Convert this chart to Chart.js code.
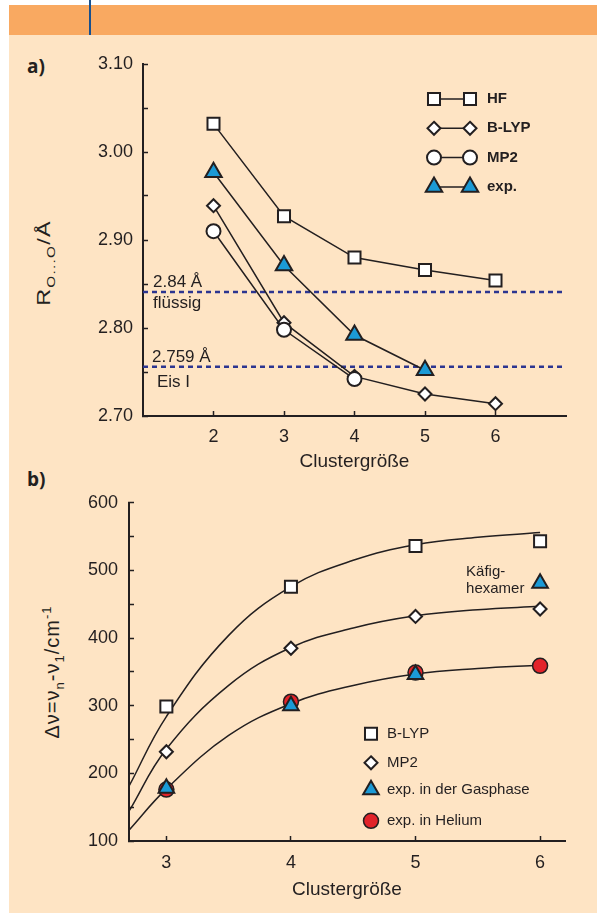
<!DOCTYPE html>
<html>
<head>
<meta charset="utf-8">
<script src="https://cdn.jsdelivr.net/npm/chart.js"></script>
<style>
  body { margin: 0; background: #fff; }
  #page { position: relative; width: 597px; height: 913px; overflow: hidden; font-family: "Liberation Sans", Arial, sans-serif; color: #231f20; }
  #band { position: absolute; left: 9px; top: 5px; right: 0; height: 30px; background: #f9a961; }
  #panel { position: absolute; left: 9px; top: 35px; right: 0; bottom: 0; background: #fee4c4; }
  #rule { position: absolute; left: 89px; top: 0; width: 2px; height: 35px; background: #17508f; }
  canvas { position: absolute; left: 0; }
  #chartA { top: 36px; }
  #chartB { top: 476px; }
  .tag { position: absolute; font-family: "Open Sans", "Noto Sans", sans-serif; font-weight: bold; font-size: 19px; line-height: 1; }
  .ytitle { position: absolute; white-space: nowrap; line-height: 1; transform: translate(-50%, -50%) rotate(-90deg); }
  .ytitle sub, .ytitle sup { font-size: 65%; }
</style>
</head>
<body>
<div id="page">
  <div id="band"></div>
  <div id="panel"></div>
  <div id="rule"></div>
  <div class="tag" style="left:27px; top:57px;">a)</div>
  <div class="tag" style="left:27px; top:470px;">b)</div>
  <div class="ytitle" style="left:46px; top:263px; font-size:18px; letter-spacing:1px; transform: translate(-50%, -50%) rotate(-90deg) scaleX(1.3);">R<sub>O...O</sub>/Å</div>
  <div class="ytitle" style="left:53px; top:672px; font-size:20px; letter-spacing:1px;">Δν=ν<sub>n</sub>-ν<sub>1</sub>/cm<sup>-1</sup></div>
  <canvas id="chartA" width="597" height="440"></canvas>
  <canvas id="chartB" width="597" height="437"></canvas>
</div>
<script>
// a) O...O distance vs cluster size
const sizesA = [2, 3, 4, 5, 6];
const hfA = [3.032, 2.927, 2.880, 2.866, 2.854];
const blypA = [2.939, 2.806, 2.745, 2.725, 2.714];
const mp2A = [2.910, 2.798, 2.742];
const expA = [2.977, 2.871, 2.792, 2.752];
const liquidRef = 2.841;
const iceRef = 2.756;
const liquidText = ['2.84 Å', 'flüssig'];
const iceText = ['2.759 Å', 'Eis I'];
const xTicksA = [2, 3, 4, 5, 6];
const yTicksA = [2.70, 2.80, 2.90, 3.00, 3.10];
const yMinorA = [2.75, 2.85, 2.95, 3.05];
const legendA = ['HF', 'B-LYP', 'MP2', 'exp.'];

// b) frequency shift vs cluster size
const sizesB = [3, 4, 5, 6];
const blypB = [299, 476, 536, 543];
const mp2B = [232, 385, 432, 443];
const gasB = [178, 300, 346, 481];
const heliumB = [176, 306, 349, 359];
// fitted curves
const fitX = [2.7, 3, 3.5, 4, 4.5, 5, 5.5, 6];
const fitBlyp = [181, 284, 404, 476, 515, 538, 549, 556];
const fitMp2 = [144, 236, 330, 386, 415, 433, 442, 447];
const fitExp = [116, 177, 256, 303, 330, 347, 355, 360];
const xTicksB = [3, 4, 5, 6];
const yTicksB = [100, 200, 300, 400, 500, 600];
const yMinorB = [150, 250, 350, 450, 550];
const legendB = ['B-LYP', 'MP2', 'exp. in der Gasphase', 'exp. in Helium'];
const cageText = ['Käfig-', 'hexamer'];

const ink = '#231f20';
const blue = '#1b9ad6';
const red = '#e2232a';
const navy = '#2c3590';
const family = '"Liberation Sans", Arial, sans-serif';

const pts = (xs, ys) => ys.map((y, i) => ({x: xs[i], y: y}));

function valueAxis(min, max, major, minor, digits, padding, width) {
    const all = major.concat(minor).sort((a, b) => a - b);
    return {
        type: 'linear', min: min, max: max,
        afterBuildTicks: s => { s.ticks = all.map(v => ({value: v})); },
        afterFit: s => { s.width = width; },
        border: {display: true, color: ink, width: 2},
        grid: {drawOnChartArea: false, drawTicks: true, tickLength: -5, tickWidth: 1.5, tickColor: ink, color: ink},
        ticks: {
            autoSkip: false, padding: padding, color: ink,
            font: {family: family, size: 18},
            callback: v => major.includes(v) ? v.toFixed(digits) : ''
        }
    };
}

function sizeAxis(min, max, ticks, padding, height) {
    return {
        type: 'linear', min: min, max: max,
        afterBuildTicks: s => { s.ticks = ticks.map(v => ({value: v})); },
        afterFit: s => { s.height = height; },
        border: {display: true, color: ink, width: 2},
        grid: {drawOnChartArea: false, drawTicks: true, tickLength: -5, tickWidth: 1.5, tickColor: ink, color: ink},
        ticks: {autoSkip: false, maxRotation: 0, padding: padding, color: ink, font: {family: family, size: 18}},
        title: {display: true, text: 'Clustergröße', color: ink, padding: 0, font: {family: family, size: 19}}
    };
}

// same geometry as Chart.js point styles
function drawMarker(ctx, ds, x, y) {
    const r = ds.pointRadius;
    ctx.save();
    ctx.fillStyle = ds.pointBackgroundColor;
    ctx.strokeStyle = ds.pointBorderColor;
    ctx.lineWidth = ds.pointBorderWidth;
    ctx.beginPath();
    if (ds.pointStyle === 'rect') {
        const s = r * Math.SQRT1_2;
        ctx.rect(x - s, y - s, 2 * s, 2 * s);
    } else if (ds.pointStyle === 'rectRot') {
        ctx.moveTo(x, y - r); ctx.lineTo(x + r, y); ctx.lineTo(x, y + r); ctx.lineTo(x - r, y); ctx.closePath();
    } else if (ds.pointStyle === 'triangle') {
        ctx.moveTo(x, y - r);
        ctx.lineTo(x + Math.sin(2 * Math.PI / 3) * r, y + r / 2);
        ctx.lineTo(x - Math.sin(2 * Math.PI / 3) * r, y + r / 2);
        ctx.closePath();
    } else {
        ctx.arc(x, y, r, 0, Math.PI * 2);
    }
    ctx.fill();
    ctx.stroke();
    ctx.restore();
}

const markerStyle = {
    square: {pointStyle: 'rect', pointRadius: 8.5, pointBackgroundColor: '#fff', pointBorderColor: ink, pointBorderWidth: 2},
    diamond: {pointStyle: 'rectRot', pointRadius: 6.5, pointBackgroundColor: '#fff', pointBorderColor: ink, pointBorderWidth: 2},
    circle: {pointStyle: 'circle', pointRadius: 7, pointBackgroundColor: '#fff', pointBorderColor: ink, pointBorderWidth: 2},
    triangle: {pointStyle: 'triangle', pointRadius: 9.5, pointBackgroundColor: blue, pointBorderColor: ink, pointBorderWidth: 2},
    dot: {pointStyle: 'circle', pointRadius: 7.5, pointBackgroundColor: red, pointBorderColor: ink, pointBorderWidth: 1.5}
};

// ---------- chart a ----------
const notesA = {
    id: 'notesA',
    afterDatasetsDraw(chart) {
        const {ctx, chartArea: area, scales: {y}} = chart;
        ctx.save();
        ctx.fillStyle = ink;
        ctx.font = '17px ' + family;
        const yl = y.getPixelForValue(liquidRef);
        const yi = y.getPixelForValue(iceRef);
        ctx.fillText(liquidText[0], area.left + 10, yl - 5);
        ctx.fillText(liquidText[1], area.left + 10, yl + 16);
        ctx.fillText(iceText[0], area.left + 9, yi - 5);
        ctx.fillText(iceText[1], area.left + 14, yi + 20);

        ctx.font = 'bold 15px ' + family;
        ctx.textBaseline = 'middle';
        legendA.forEach((name, i) => {
            const ds = chart.data.datasets[i];
            const ry = area.top + 35 + i * 29.3;
            const x1 = area.left + 291, x2 = area.left + 327;
            ctx.strokeStyle = ink;
            ctx.lineWidth = 1.5;
            ctx.beginPath(); ctx.moveTo(x1, ry); ctx.lineTo(x2, ry); ctx.stroke();
            drawMarker(ctx, ds, x1, ry);
            drawMarker(ctx, ds, x2, ry);
            ctx.fillStyle = ink;
            ctx.fillText(name, area.left + 344, ry);
        });
        ctx.restore();
    }
};

function refLine(v) {
    return {data: [{x: 1, y: v}, {x: 7, y: v}], borderColor: navy, borderWidth: 2.5, borderDash: [5, 4], pointRadius: 0, order: 10};
}

new Chart(document.getElementById('chartA'), {
    type: 'line',
    data: {
        datasets: [
            Object.assign({label: 'HF', data: pts(sizesA, hfA), borderColor: ink, borderWidth: 1.5, order: 3}, markerStyle.square),
            Object.assign({label: 'B-LYP', data: pts(sizesA, blypA), borderColor: ink, borderWidth: 1.5, order: 2}, markerStyle.diamond),
            Object.assign({label: 'MP2', data: pts(sizesA, mp2A), borderColor: ink, borderWidth: 1.5, order: 1}, markerStyle.circle),
            Object.assign({label: 'exp.', data: pts(sizesA, expA), borderColor: ink, borderWidth: 1.5, order: 0}, markerStyle.triangle),
            refLine(liquidRef),
            refLine(iceRef)
        ]
    },
    options: {
        responsive: false,
        animation: false,
        devicePixelRatio: 1,
        layout: {padding: {left: 83, right: 31, top: 28, bottom: 3}},
        plugins: {legend: {display: false}, tooltip: {enabled: false}},
        scales: {
            x: sizeAxis(1, 7, xTicksA, 15, 57),
            y: valueAxis(2.70, 3.10, yTicksA, yMinorA, 2, 15, 60)
        }
    },
    plugins: [notesA]
});

// ---------- chart b ----------
const notesB = {
    id: 'notesB',
    afterDatasetsDraw(chart) {
        const {ctx, chartArea: area, scales: {x, y}} = chart;
        ctx.save();
        ctx.fillStyle = ink;
        ctx.font = '15px ' + family;
        const cx = x.getPixelForValue(sizesB[3]);
        const cy = y.getPixelForValue(gasB[3]);
        ctx.fillText(cageText[0], cx - 74, cy - 7);
        ctx.fillText(cageText[1], cx - 74, cy + 10);

        ctx.textBaseline = 'middle';
        const offsets = [0, 29, 56, 87];
        legendB.forEach((name, i) => {
            const ds = chart.data.datasets[i];
            const ry = area.top + 231 + offsets[i];
            drawMarker(ctx, ds, area.left + 242, ry);
            ctx.fillStyle = ink;
            ctx.fillText(name, area.left + 258, ry);
        });
        ctx.restore();
    }
};

function fitLine(ys) {
    return {data: pts(fitX, ys), borderColor: ink, borderWidth: 1.5, pointRadius: 0, tension: 0.4, order: 5};
}

new Chart(document.getElementById('chartB'), {
    type: 'line',
    data: {
        datasets: [
            Object.assign({label: 'B-LYP', data: pts(sizesB, blypB), showLine: false, order: 3}, markerStyle.square),
            Object.assign({label: 'MP2', data: pts(sizesB, mp2B), showLine: false, order: 2}, markerStyle.diamond),
            Object.assign({label: 'exp. in der Gasphase', data: pts(sizesB, gasB), showLine: false, order: 0}, markerStyle.triangle, {pointRadius: 9}),
            Object.assign({label: 'exp. in Helium', data: pts(sizesB, heliumB), showLine: false, order: 1}, markerStyle.dot),
            fitLine(fitBlyp),
            fitLine(fitMp2),
            fitLine(fitExp)
        ]
    },
    options: {
        responsive: false,
        animation: false,
        devicePixelRatio: 1,
        layout: {padding: {left: 69, right: 32, top: 13, bottom: 12}},
        plugins: {legend: {display: false}, tooltip: {enabled: false}},
        scales: {
            x: sizeAxis(2.7, 6.2, xTicksB, 16, 60),
            y: valueAxis(100, 600, yTicksB, yMinorB, 0, 16, 60)
        }
    },
    plugins: [notesB]
});
</script>
</body>
</html>
